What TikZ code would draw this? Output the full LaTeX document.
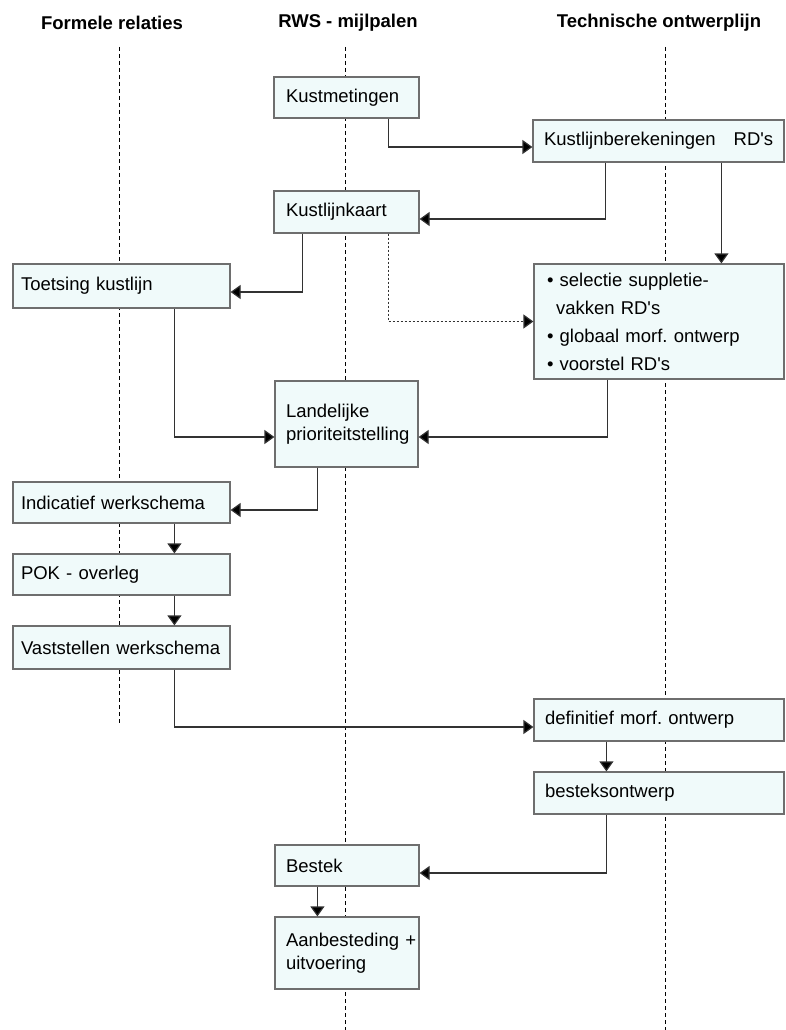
\documentclass[tikz,border=0pt]{standalone}
\usepackage{fontspec}
\setmainfont{Liberation Sans}
\usetikzlibrary{arrows.meta,calc}
\definecolor{boxfill}{RGB}{240,250,250}
\definecolor{boxline}{RGB}{110,110,110}
\definecolor{conn}{RGB}{50,50,50}
\newcommand{\apo}{\textquotesingle}
\tikzset{
  lifeline/.style={black,line width=0.8pt,dash pattern=on 4pt off 3pt},
  header/.style={font=\fontsize{18.5}{22}\selectfont\bfseries,inner sep=0pt},
  stepbox/.style={draw=boxline,fill=boxfill,line width=1.2pt,inner ysep=0pt,
     align=left,font=\fontsize{18.5}{23}\selectfont\frenchspacing},
  arr/.style={conn,line width=1.2pt,-{Triangle[length=10pt,width=14pt,fill=black]}},
  dotarr/.style={arr,dash pattern=on 2pt off 2pt},
}
\begin{document}
\begin{tikzpicture}[x=1pt,y=-1pt]
\useasboundingbox (0,0) rectangle (786,1030);
% headers
\node[header] (h1) at (112,23) {Formele relaties};
\node[header] (h2) at (348,23) {RWS - mijlpalen};
\node[header] (h3) at (659,23) {Technische ontwerplijn};
% lifelines
\coordinate (l1a) at (119,47); \coordinate (l1b) at (119,725);
\coordinate (l2a) at (345,47); \coordinate (l2b) at (345,1030);
\coordinate (l3a) at (665,47); \coordinate (l3b) at (665,1030);
\draw[lifeline] (l1a) -- (l1b);
\draw[lifeline] (l2a) -- (l2b);
\draw[lifeline] (l3a) -- (l3b);
% boxes
\node[stepbox,text width=121pt,inner xsep=12pt,minimum height=41pt] (km) at (346.5,97.5) {Kustmetingen};
\node[stepbox,text width=229pt,inner xsep=11pt,minimum height=42pt] (kb) at (658.5,141) {\mbox{Kustlijnberekeningen\hspace{18pt}RD\apo s}};
\node[stepbox,text width=121pt,inner xsep=12pt,minimum height=42pt] (kk) at (346.5,212) {Kustlijnkaart};
\node[stepbox,text width=201pt,inner xsep=8pt,minimum height=44pt] (tk) at (121.5,286) {Toetsing kustlijn};
\node[stepbox,text width=224pt,inner xsep=13pt,minimum height=115pt,font=\fontsize{18.5}{28}\selectfont\frenchspacing] (sel) at (659,321.5)
  {\textbullet~selectie suppletie-\\\hspace*{9pt}vakken RD\apo s\\\textbullet~globaal morf. ontwerp\\\textbullet~voorstel RD\apo s};
\node[stepbox,text width=121pt,inner xsep=11pt,minimum height=86pt] (lp) at (346.5,424) {Landelijke\\prioriteitstelling};
\node[stepbox,text width=201pt,inner xsep=8pt,minimum height=41pt] (iw) at (121.5,502.5) {Indicatief werkschema};
\node[stepbox,text width=201pt,inner xsep=8pt,minimum height=41pt] (pok) at (121.5,574.5) {POK - overleg};
\node[stepbox,text width=201pt,inner xsep=8pt,minimum height=43pt] (vw) at (121.5,647.5) {Vaststellen~werkschema};
\node[stepbox,text width=228pt,inner xsep=11pt,minimum height=42pt] (dm) at (659,720) {definitief morf. ontwerp};
\node[stepbox,text width=228pt,inner xsep=11pt,minimum height=42pt] (bo) at (659,793) {besteksontwerp};
\node[stepbox,text width=122pt,inner xsep=11pt,minimum height=41pt] (bk) at (347,865.5) {Bestek};
\node[stepbox,text width=122pt,inner xsep=11pt,minimum height=72pt] (ab) at (347,953) {Aanbesteding~+\\uitvoering};
% connectors
\coordinate (c1) at ([xshift=115pt]km.south west);
\draw[arr] (c1) |- ([yshift=-6pt]kb.west);
\coordinate (c2) at ([xshift=73pt]kb.south west);
\draw[arr] (c2) |- ([yshift=-7pt]kk.east);
\coordinate (c3) at ([xshift=189pt]kb.south west);
\draw[arr] (c3) -- (c3 |- sel.north);
\coordinate (c4) at ([xshift=29pt]kk.south west);
\draw[arr] (c4) |- ([yshift=-6pt]tk.east);
\coordinate (c5) at ([xshift=115pt]kk.south west);
\draw[dotarr] (c5) |- (sel.west);
\coordinate (c6) at ([xshift=162pt]tk.south west);
\draw[arr] (c6) |- ([yshift=-13pt]lp.west);
\coordinate (c7) at ([xshift=74pt]sel.south west);
\draw[arr] (c7) |- ([yshift=-13pt]lp.east);
\coordinate (c8) at ([xshift=43pt]lp.south west);
\draw[arr] (c8) |- ([yshift=-7.5pt]iw.east);
\coordinate (c9) at ([xshift=162pt]iw.south west);
\draw[arr] (c9) -- (c9 |- pok.north);
\coordinate (c10) at ([xshift=162pt]pok.south west);
\draw[arr] (c10) -- (c10 |- vw.north);
\coordinate (c11) at ([xshift=162pt]vw.south west);
\draw[arr] (c11) |- ([yshift=-7pt]dm.west);
\coordinate (c12) at ([xshift=73pt]dm.south west);
\draw[arr] (c12) -- (c12 |- bo.north);
\coordinate (c13) at ([xshift=73pt]bo.south west);
\draw[arr] (c13) |- ([yshift=-7.5pt]bk.east);
\coordinate (c14) at ([xshift=43pt]bk.south west);
\draw[arr] (c14) -- (c14 |- ab.north);
\end{tikzpicture}
\end{document}
